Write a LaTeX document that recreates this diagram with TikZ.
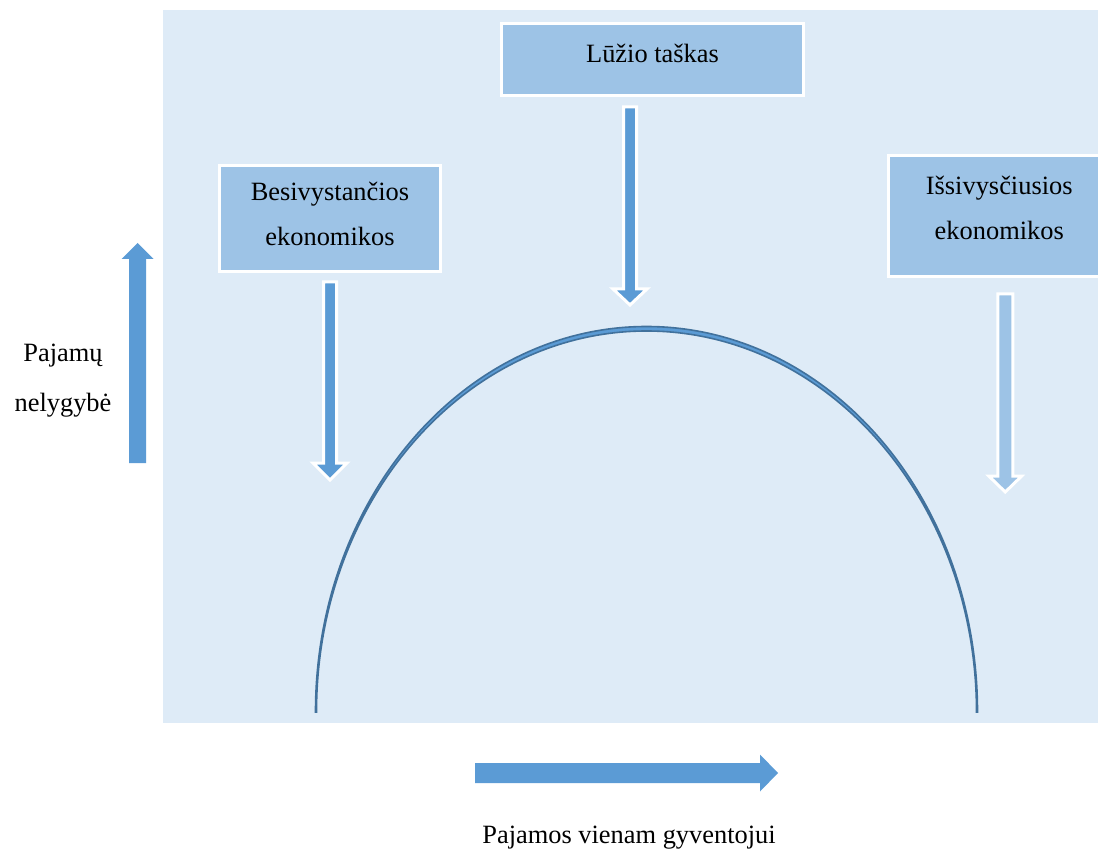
\documentclass[tikz,border=0pt]{standalone}
\usepackage{fontspec}
\setmainfont{Liberation Serif}
\definecolor{bgblue}{HTML}{DEEBF7}
\definecolor{boxblue}{HTML}{9DC3E6}
\definecolor{arrowblue}{HTML}{5B9BD5}
\definecolor{curveblue}{HTML}{41719C}
\tikzset{
	box/.style={draw=white, line width=1.5pt, fill=boxblue, align=center, inner sep=2pt},
	blockarrow/.style={fill=arrowblue, draw=white, line width=1.5pt},
	axisarrow/.style={fill=arrowblue},
	curve/.style={fill=arrowblue, draw=curveblue, line width=0.8pt},
}
\begin{document}
\begin{tikzpicture}[x=0.5pt, y=-0.5pt, font=\fontsize{13.2}{22.5}\selectfont]
			\useasboundingbox (0,0) rectangle (1098,850);
			\fill[bgblue] (163,10) rectangle (1098,723);

			\node[box, minimum width=110.75pt, minimum height=53pt, text depth=5pt]   at (330,218.5)   (developing) {Besivystančios\\ekonomikos};
			\node[box, minimum width=151pt, minimum height=36pt, text depth=6.5pt]    at (652.5,59.5)  (turning)    {Lūžio taškas};
			\node[box, minimum width=110.75pt, minimum height=60.5pt, text depth=8.6pt] at (999.25,216) (developed)  {Išsivysčiusios\\ekonomikos};

			\node[align=center, font=\fontsize{13.2}{25}\selectfont] at (63,381) (inequality) {Pajamų\\nelygybė};
			\node[anchor=base] at (629,843) (income) {Pajamos vienam gyventojui};

			\filldraw[curve]
					(315.5,712) arc[start angle=180, end angle=360, x radius=331, y radius=385.5]
					-- (976.5,712) arc[start angle=360, end angle=180, x radius=330, y radius=381]
					-- cycle;

			\filldraw[blockarrow]
					(developing.south) ++(-6.5,9) -- ++(13,0) -- ++(0,181) -- ++(10.5,0) -- ++(-17,17) -- ++(-17,-17) -- ++(10.5,0) -- cycle;
			\filldraw[blockarrow]
					(turning.south) ++(-29,10) -- ++(13,0) -- ++(0,182) -- ++(10.5,0) -- ++(-17,16) -- ++(-17,-16) -- ++(10.5,0) -- cycle;
			\filldraw[blockarrow, fill=boxblue]
					(developed.south) ++(-1.5,16) -- ++(15,0) -- ++(0,182) -- ++(9,0) -- ++(-16.5,16) -- ++(-16.5,-16) -- ++(9,0) -- cycle;

			\fill[axisarrow]
					(129,463) -- ++(17,0) -- ++(0,-204) -- ++(7.5,0) -- ++(-16,-16) -- ++(-16,16) -- ++(7.5,0) -- cycle
					(475,763) -- ++(285,0) -- ++(0,-8.5) -- ++(18,18.5) -- ++(-18,18.5) -- ++(0,-8.5) -- ++(-285,0) -- cycle;

		\end{tikzpicture}
\end{document}
